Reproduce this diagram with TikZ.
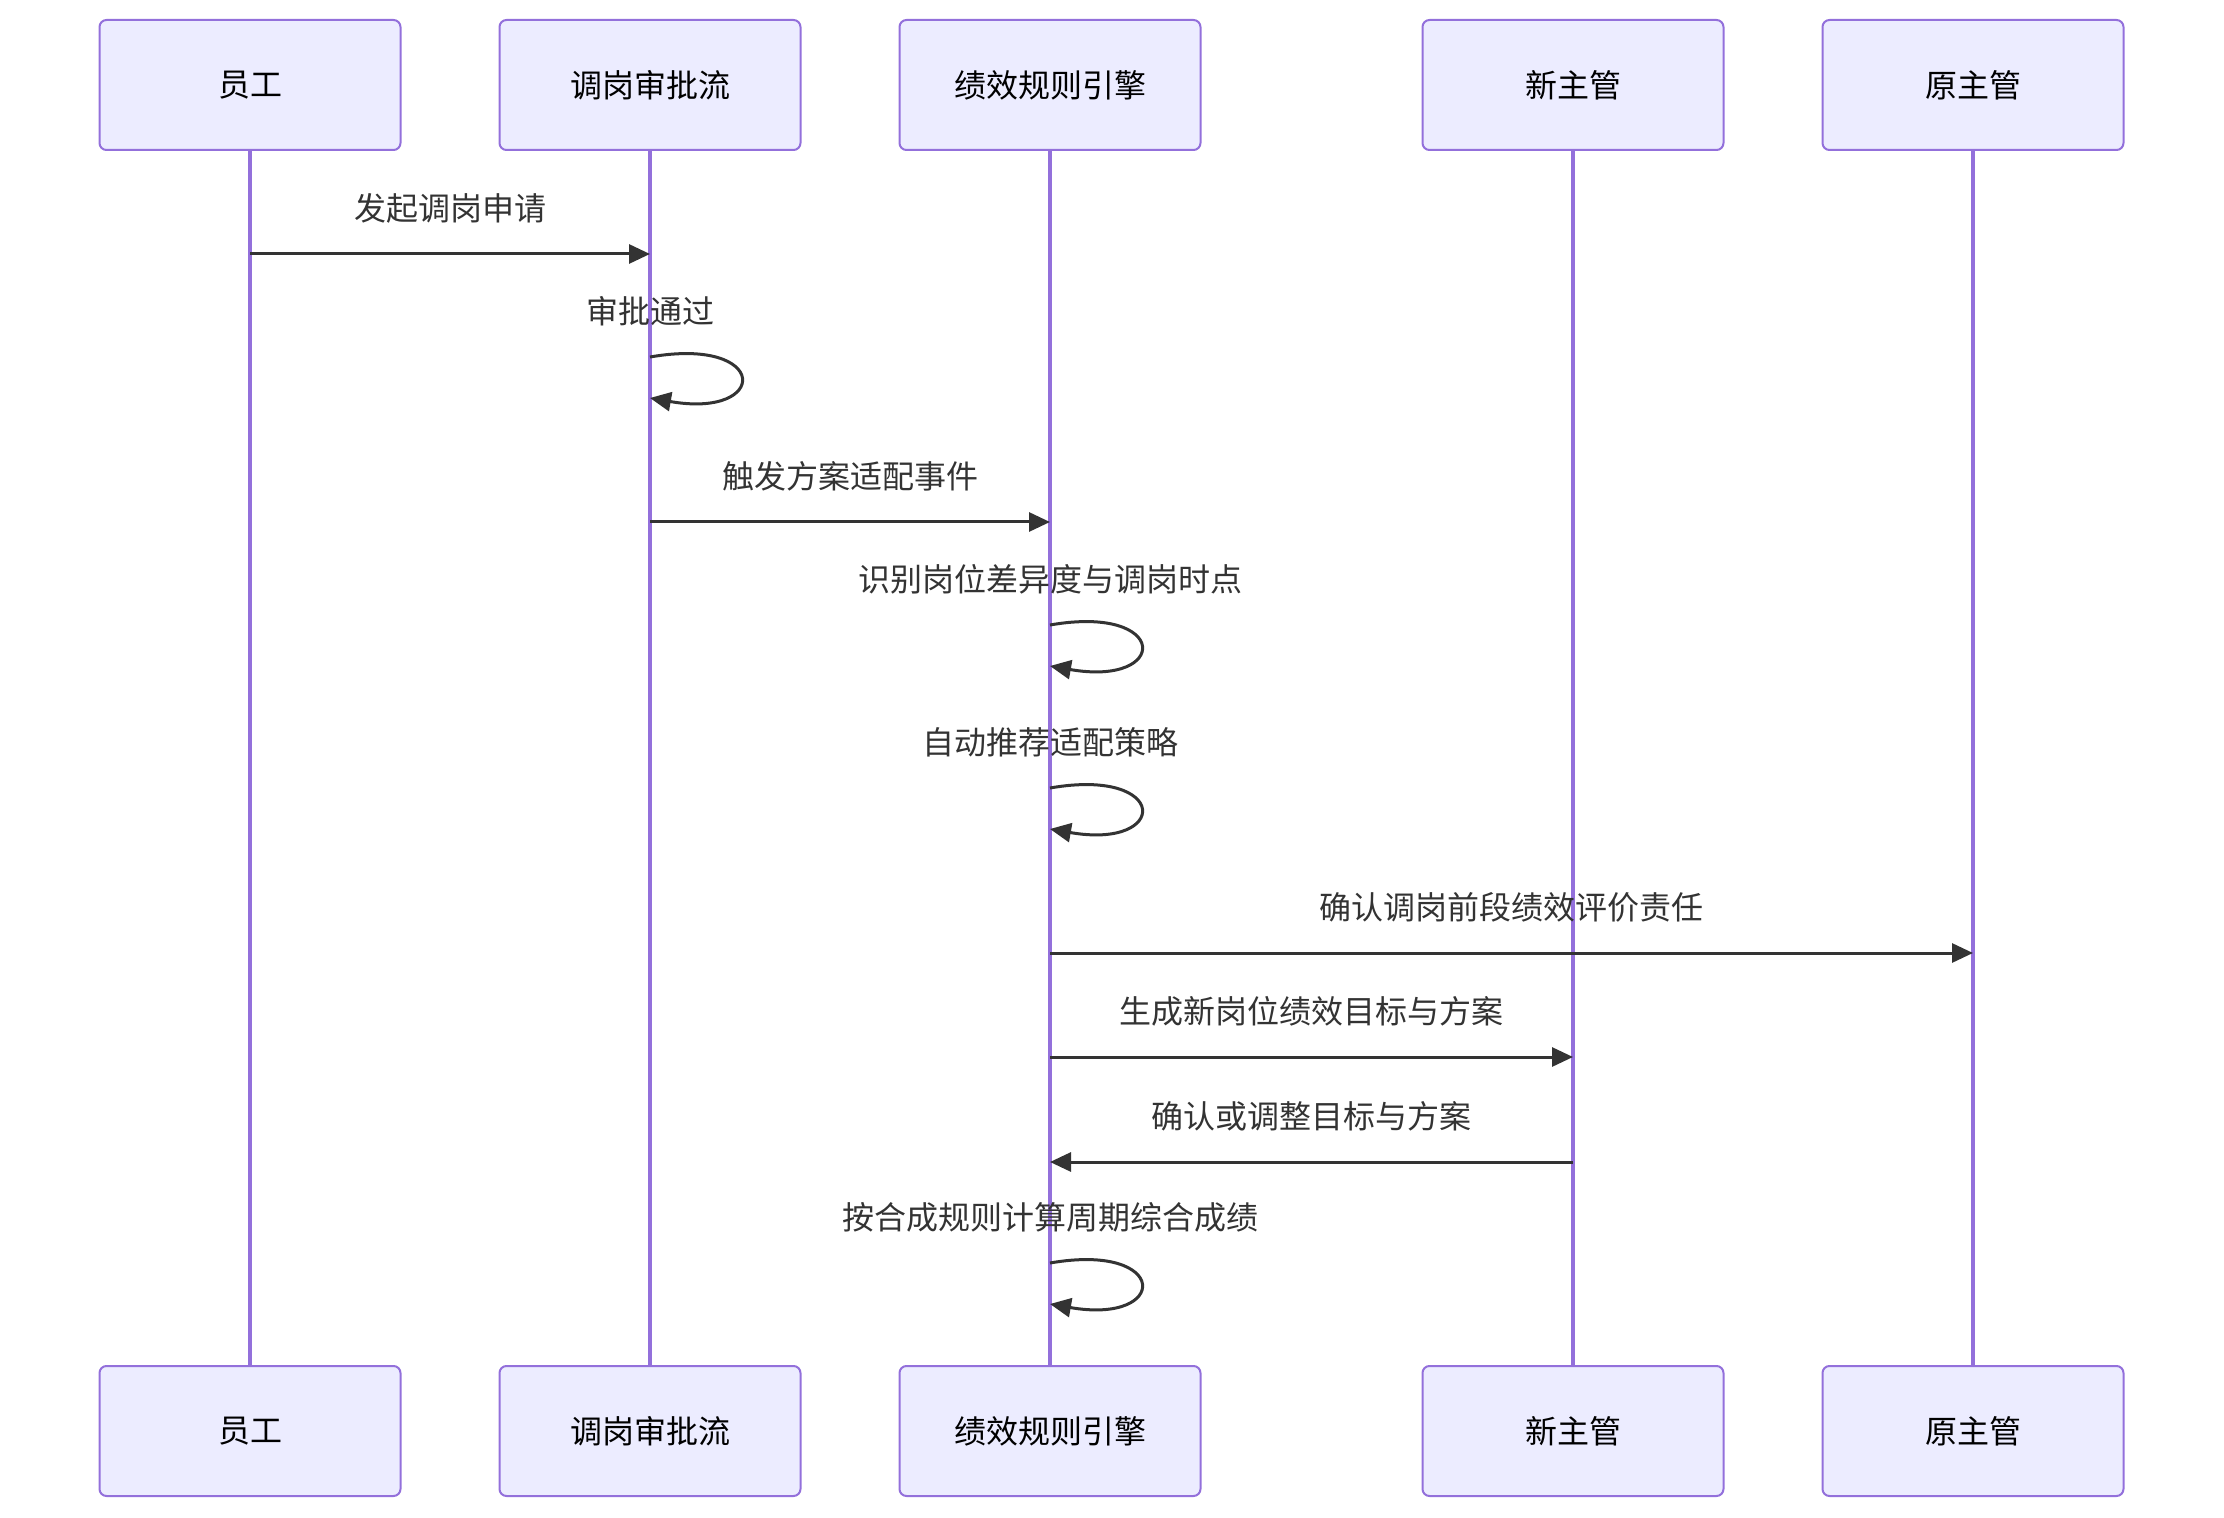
\documentclass[tikz,border=0pt]{standalone}
\usepackage{fontspec}
\setmainfont{Noto Sans CJK SC}
\usepackage{tikz}
\usetikzlibrary{arrows.meta,positioning}
\definecolor{actorfill}{HTML}{ECECFF}
\definecolor{actorline}{HTML}{9370DB}
\definecolor{msgline}{HTML}{333333}
\tikzset{
  actorbox/.style={draw=actorline, fill=actorfill, line width=1pt, outer sep=0pt, rounded corners=3.5pt, minimum width=150.5pt, minimum height=65pt, font=\fontsize{16}{19}\selectfont},
  lifeline/.style={draw=actorline, line width=1.7pt},
  msgarrow/.style={draw=msgline, line width=1.5pt, -{Triangle[length=10.5pt,width=9.5pt]}},
  msglabel/.style={font=\fontsize{16}{19}\selectfont, text=msgline, inner sep=0pt}
}

\begin{document}
\begin{tikzpicture}[x=0.5pt, y=-0.5pt, node distance=49.5pt]
  \useasboundingbox (0,0) rectangle (2224,1518);

  % participants, top row
  \node[actorbox] (tEmp) at (250,85) {员工};
  \node[actorbox, right=of tEmp] (tFlow) {调岗审批流};
  \node[actorbox, right=of tFlow] (tEngine) {绩效规则引擎};
  \node[actorbox, right=111pt of tEngine] (tNew) {新主管};
  \node[actorbox, right=of tNew] (tOld) {原主管};

  % participants, bottom row
  \node[actorbox, below=608pt of tEmp] (bEmp) {员工};
  \node[actorbox, below=608pt of tFlow] (bFlow) {调岗审批流};
  \node[actorbox, below=608pt of tEngine] (bEngine) {绩效规则引擎};
  \node[actorbox, below=608pt of tNew] (bNew) {新主管};
  \node[actorbox, below=608pt of tOld] (bOld) {原主管};

  % lifelines
  \draw[lifeline] (tEmp) -- (bEmp);
  \draw[lifeline] (tFlow) -- (bFlow);
  \draw[lifeline] (tEngine) -- (bEngine);
  \draw[lifeline] (tNew) -- (bNew);
  \draw[lifeline] (tOld) -- (bOld);

  % message anchors on the lifelines
  \coordinate (m1a) at (tEmp |- 0,254);
  \coordinate (m1b) at (tFlow |- 0,254);
  \coordinate (l1a) at (tFlow |- 0,357);
  \coordinate (l1b) at (tFlow |- 0,398);
  \coordinate (m2a) at (tFlow |- 0,522);
  \coordinate (m2b) at (tEngine |- 0,522);
  \coordinate (l2a) at (tEngine |- 0,625);
  \coordinate (l2b) at (tEngine |- 0,666);
  \coordinate (l3a) at (tEngine |- 0,788);
  \coordinate (l3b) at (tEngine |- 0,829);
  \coordinate (m3a) at (tEngine |- 0,953);
  \coordinate (m3b) at (tOld |- 0,953);
  \coordinate (m4a) at (tEngine |- 0,1057);
  \coordinate (m4b) at (tNew |- 0,1057);
  \coordinate (m5a) at (tNew |- 0,1162);
  \coordinate (m5b) at (tEngine |- 0,1162);
  \coordinate (l4a) at (tEngine |- 0,1263);
  \coordinate (l4b) at (tEngine |- 0,1304);

  % messages
  \draw[msgarrow] (m1a) -- node[msglabel, yshift=23pt] {发起调岗申请} (m1b);
  \draw[msgarrow] (l1a) .. controls +(60pt,10.5pt) and +(60pt,-10.5pt) .. (l1b);
  \node[msglabel] (t1) at ([yshift=23pt]l1a) {审批通过};
  \draw[msgarrow] (m2a) -- node[msglabel, yshift=23pt] {触发方案适配事件} (m2b);
  \draw[msgarrow] (l2a) .. controls +(60pt,10.5pt) and +(60pt,-10.5pt) .. (l2b);
  \node[msglabel] (t2) at ([yshift=23pt]l2a) {识别岗位差异度与调岗时点};
  \draw[msgarrow] (l3a) .. controls +(60pt,10.5pt) and +(60pt,-10.5pt) .. (l3b);
  \node[msglabel] (t3) at ([yshift=23pt]l3a) {自动推荐适配策略};
  \draw[msgarrow] (m3a) -- node[msglabel, yshift=23pt] {确认调岗前段绩效评价责任} (m3b);
  \draw[msgarrow] (m4a) -- node[msglabel, yshift=23pt] {生成新岗位绩效目标与方案} (m4b);
  \draw[msgarrow] (m5a) -- node[msglabel, yshift=23pt] {确认或调整目标与方案} (m5b);
  \draw[msgarrow] (l4a) .. controls +(60pt,10.5pt) and +(60pt,-10.5pt) .. (l4b);
  \node[msglabel] (t4) at ([yshift=23pt]l4a) {按合成规则计算周期综合成绩};
\end{tikzpicture}
\end{document}
